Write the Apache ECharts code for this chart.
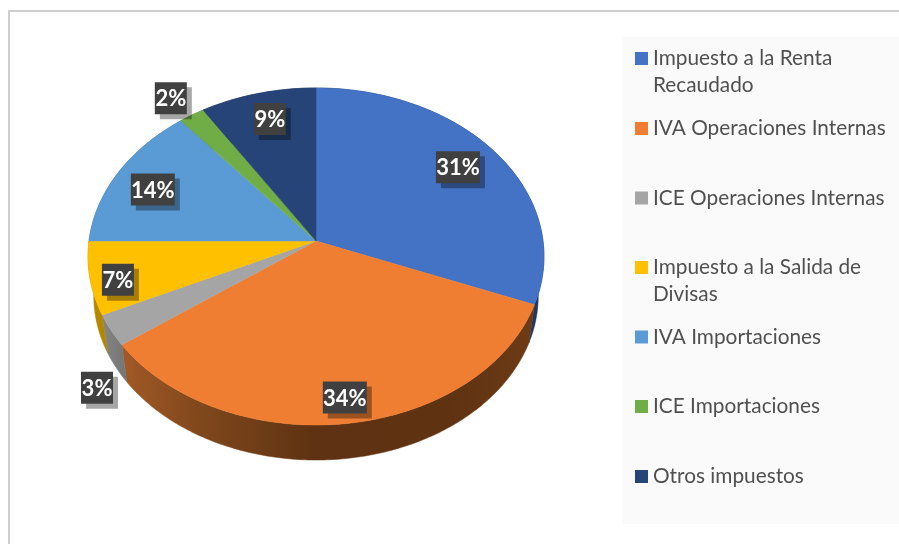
<!DOCTYPE html>
<html><head><meta charset="utf-8">
<style>html,body{margin:0;padding:0;background:#fff}#c{width:899px;height:544px}</style>
<script src="https://cdn.jsdelivr.net/npm/echarts@6/dist/echarts.min.js"></script>
</head><body><div id="c"></div>
<script>
const categories = ['Impuesto a la Renta Recaudado','IVA Operaciones Internas','ICE Operaciones Internas','Impuesto a la Salida de Divisas','IVA Importaciones','ICE Importaciones','Otros impuestos'];
const legendLines = ['Impuesto a la Renta\nRecaudado','IVA Operaciones Internas','ICE Operaciones Internas','Impuesto a la Salida de\nDivisas','IVA Importaciones','ICE Importaciones','Otros impuestos'];
const values = [31,34,3,7,14,2,9];
const topColors = ['#4472C4','#F07E32','#A5A5A5','#FFC000','#5B9BD5','#70AD47','#264478'];
const legendCentres = [58.5,128.5,198,267.5,337,406.5,476.5];
const labelNudges = [[-36.6,15.5],[-2.5,-26],[-14,57.5],[28,1.5],[34.5,17],[-21,-17],[12,25.5]];

const total = values.reduce((a,b)=>a+b,0);
const starts = values.map((_,i)=>values.slice(0,i).reduce((a,b)=>a+b,0));
const APEX = {x:316,y:241}, A = 227, G = 167.1, K = 0.092, WALL_SCALE = 0.975, WALL_DROP = 39.6;
function rim(pct){
  const t = pct/total*2*Math.PI, u = Math.sin(t), v = -Math.cos(t), d = 1-K*v;
  return {X:A*u/d, Y:G*v/d};
}
const top_ = p => { const r=rim(p); return [APEX.x+r.X, APEX.y+r.Y]; };
const low_ = p => { const r=rim(p); return [APEX.x+r.X*WALL_SCALE, APEX.y+r.Y*WALL_SCALE+WALL_DROP]; };
const grad = stops => new echarts.graphic.LinearGradient(90,0,540,0,stops.map((c,i)=>({offset:c[0],color:c[1]})),true);
const wallFills = [
  ()=>'#1F3864',
  ()=>grad([[0,'#B0602A'],[0.25,'#7F471C'],[0.5,'#5E3212'],[0.8,'#5F3212'],[1,'#6E3C16']]),
  ()=>grad([[0,'#8E8E8E'],[0.1,'#6E6E6E'],[1,'#6E6E6E']]),
  ()=>'#B38700',()=>'#3F6D96',()=>'#4F7A32',()=>'#1B3054'
];
function renderSlice(params, api){
  const i = params.seriesIndex, v = api.value(0), s = starts[i], n = Math.max(2,Math.ceil(v*4));
  const arcT=[], arcL=[];
  for(let k=0;k<=n;k++){ const p=s+v*k/n; arcT.push(top_(p)); arcL.push(low_(p)); }
  const mid = rim(s+v/2), nudge = labelNudges[i];
  const cx = APEX.x+mid.X+nudge[0], cy = APEX.y+mid.Y+nudge[1];
  const text = Math.round(v/total*100)+'%';
  const w = text.length>2?44:32, h = 32;
  const fill = wallFills[i]();
  return {type:'group',children:[
    {type:'polygon',z2:0,shape:{points:arcT.concat(arcL.slice().reverse())},style:{fill:fill,stroke:fill,lineWidth:0.5}},
    {type:'polygon',z2:10,shape:{points:[[APEX.x,APEX.y]].concat(arcT)},style:{fill:topColors[i],stroke:topColors[i],lineWidth:0.5}},
    {type:'rect',z2:20,shape:{x:cx-w/2+5,y:cy-h/2+5,width:w,height:h},style:{fill:'rgba(0,0,0,0.35)'}},
    {type:'rect',z2:21,shape:{x:cx-w/2,y:cy-h/2,width:w,height:h},style:{fill:'#404040'}},
    {type:'text',z2:22,x:cx,y:cy+1,style:{text:text,fill:'#fff',font:'bold 22px Lato',align:'center',verticalAlign:'middle'}}
  ]};
}
const chart = echarts.init(document.getElementById('c'),null,{renderer:'canvas'});
chart.setOption({
  animation:false,
  backgroundColor:'#fff',
  graphic:[
    {type:'rect',shape:{x:8,y:10,width:891,height:2},style:{fill:'#cfcfcf'},silent:true},
    {type:'rect',shape:{x:8,y:10,width:2,height:534},style:{fill:'#cfcfcf'},silent:true},
    {type:'rect',shape:{x:622.5,y:37,width:276.5,height:487},style:{fill:'#FAFAFA'},silent:true}
  ],
  legend: categories.map((name,i)=>{
    const two = legendLines[i].includes('\n');
    return {
      data:[name], orient:'vertical', left:635, top: legendCentres[i]-(two?40.5:13.5), padding:0,
      icon:'rect', itemWidth:13, itemHeight:13, itemGap:0, selectedMode:false,
      formatter:()=>(two?'\n':'')+legendLines[i],
      textStyle:{fontFamily:'Lato',fontSize:20.8,color:'#505050',lineHeight:27}
    };
  }),
  series: categories.map((name,i)=>({
    type:'custom',name:name,coordinateSystem:'none',renderItem:renderSlice,
    itemStyle:{color:topColors[i]},data:[[values[i]]],silent:true
  }))
});
</script></body></html>
